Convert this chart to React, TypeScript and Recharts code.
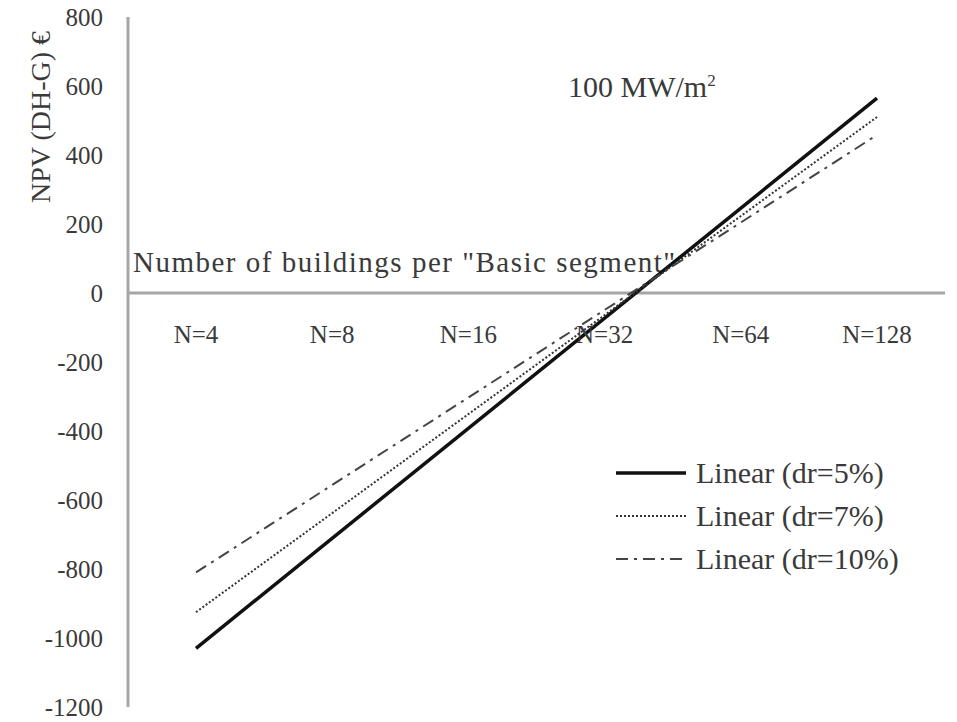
import { LineChart, Line, XAxis, YAxis, ReferenceLine, ReferenceDot } from "recharts"

// values (linear trendlines, drawn end to end)
const categories = ["N=4", "N=8", "N=16", "N=32", "N=64", "N=128"]
const dr5 = [-1030, null, null, null, null, 565]
const dr7 = [-925, null, null, null, null, 510]
const dr10 = [-810, null, null, null, null, 458]
const yTicks = [-1200, -1000, -800, -600, -400, -200, 0, 200, 400, 600, 800]

const data = categories.map((name, i) => ({ name, dr5: dr5[i], dr7: dr7[i], dr10: dr10[i] }))

const series = [
  { key: "dr5", name: "Linear (dr=5%)", stroke: "#111111", width: 3.5, dash: undefined },
  { key: "dr7", name: "Linear (dr=7%)", stroke: "#333333", width: 2, dash: "2 2" },
  { key: "dr10", name: "Linear (dr=10%)", stroke: "#444444", width: 2, dash: "12 6 3 6" },
]

const serif = '"Liberation Serif", "Times New Roman", serif'
const textColor = "#3a3a3a"
const axisColor = "#a6a6a6"

function LegendBox() {
  return (
    <div
      style={{
        position: "absolute",
        left: 616,
        top: 451,
        fontFamily: serif,
        fontSize: 30,
        color: textColor,
      }}
    >
      {series.map((s) => (
        <div key={s.key} style={{ display: "flex", alignItems: "center", height: 43 }}>
          <svg width={72} height={10} style={{ marginRight: 8 }}>
            <line x1={0} y1={5} x2={70} y2={5} stroke={s.stroke} strokeWidth={s.width} strokeDasharray={s.dash} />
          </svg>
          <span>{s.name}</span>
        </div>
      ))}
    </div>
  )
}

export default function App() {
  return (
    <div style={{ position: "absolute", left: 0, top: 0, width: 957, height: 722, background: "#fff" }}>
      <LineChart width={957} height={722} data={data} margin={{ top: 17, right: 12, bottom: 15, left: 0 }}>
        <XAxis dataKey="name" hide padding={{ left: 68, right: 68 }} />
        <YAxis
          width={128}
          domain={[-1200, 800]}
          ticks={yTicks}
          tickLine={false}
          tickSize={0}
          tickMargin={25}
          axisLine={{ stroke: axisColor, strokeWidth: 3 }}
          tick={{ fontSize: 25, fill: textColor, fontFamily: serif }}
          label={{
            content: (props: any) => {
              const vb = props.viewBox || { x: 0, y: 17 }
              const cx = vb.x + 40
              const cy = vb.y + 100
              return (
                <text
                  x={cx}
                  y={cy}
                  transform={`rotate(-90 ${cx} ${cy})`}
                  textAnchor="middle"
                  dominantBaseline="central"
                  fontSize={28}
                  fontFamily={serif}
                  fill={textColor}
                >
                  NPV (DH-G) €
                </text>
              )
            },
          }}
        />
        <ReferenceLine
          y={0}
          stroke={axisColor}
          strokeWidth={3}
          label={{
            content: (props: any) => {
              const vb = props.viewBox || { x: 128, y: 293 }
              return (
                <text x={vb.x + 5} y={vb.y - 21} fontSize={29} letterSpacing={1.5} fontFamily={serif} fill={textColor}>
                  Number of buildings per "Basic segment"
                </text>
              )
            },
          }}
        />
        {categories.map((c) => (
          <ReferenceDot
            key={c}
            x={c}
            y={0}
            r={0}
            fill="none"
            stroke="none"
            label={{ value: c, position: "bottom", offset: 32, fontSize: 25, fill: textColor, fontFamily: serif }}
          />
        ))}
        {series.map((s) => (
          <Line
            key={s.key}
            dataKey={s.key}
            name={s.name}
            stroke={s.stroke}
            strokeWidth={s.width}
            strokeDasharray={s.dash}
            dot={false}
            activeDot={false}
            connectNulls
            isAnimationActive={false}
          />
        ))}
      </LineChart>
      <LegendBox />
      <div
        style={{
          position: "absolute",
          left: 568,
          top: 64,
          fontFamily: serif,
          fontSize: 30,
          color: textColor,
          lineHeight: "34px",
        }}
      >
        100 MW/m<sup style={{ fontSize: 17 }}>2</sup>
      </div>
    </div>
  )
}
